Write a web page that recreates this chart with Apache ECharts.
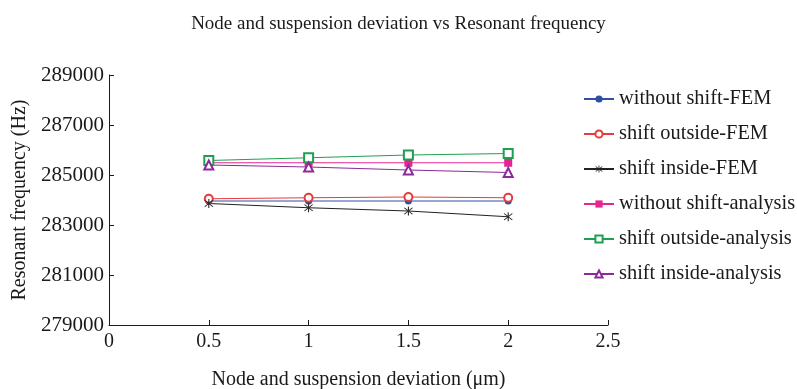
<!DOCTYPE html>
<html>
<head>
<meta charset="utf-8">
<script src="https://cdn.jsdelivr.net/npm/echarts@6/dist/echarts.min.js"></script>
<style>html,body{margin:0;padding:0;background:#fff}#c{width:797px;height:389px}</style>
</head>
<body>
<div id="c"></div>
<script>
const xValues = [0.5, 1, 1.5, 2];
const yTicks = [279000, 281000, 283000, 285000, 287000, 289000];
const withoutShiftFEM = [283960, 283960, 283960, 283960];
const shiftOutsideFEM = [284050, 284090, 284120, 284090];
const shiftInsideFEM = [283860, 283690, 283560, 283330];
const withoutShiftAnalysis = [285490, 285490, 285490, 285490];
const shiftOutsideAnalysis = [285580, 285690, 285800, 285860];
const shiftInsideAnalysis = [285400, 285320, 285200, 285100];

const FONT = '"Liberation Serif", "DejaVu Serif", serif';
const asterisk = 'path://M-0.45 -5 L0.45 -5 L0.45 5 L-0.45 5 Z M3.85 3.22 L3.22 3.85 L-3.85 -3.22 L-3.22 -3.85 Z M-3.22 3.85 L-3.85 3.22 L3.22 -3.85 L3.85 -3.22 Z';

function pairs(vals){ return xValues.map((x,i)=>[x, vals[i]]); }

function mk(name, vals, color, symbol, size){
  return {
    name, type:'line', data: pairs(vals), symbol, symbolSize: size,
    lineStyle:{color, width:1},
    itemStyle:{color, borderWidth: 1},
    emphasis:{disabled:true}, animation:false
  };
}

const chart = echarts.init(document.getElementById('c'), null, {renderer:'canvas'});
chart.setOption({
  backgroundColor:'#fff',
  animation:false,
  title:{
    text:'Node and suspension deviation vs Resonant frequency',
    left:'center', top:10,
    textStyle:{fontFamily:FONT, fontSize:19, fontWeight:'normal', color:'#1a1a1a'}
  },
  grid:{left:109, right:189, top:75, bottom:64, containLabel:false, outerBoundsMode:'none'},
  legend:{
    orient:'vertical', left:578, top:84, itemWidth:30, itemHeight:9, itemGap:15,
    textStyle:{fontFamily:FONT, fontSize:20.4, color:'#1a1a1a'},
    data:['without shift-FEM','shift outside-FEM','shift inside-FEM','without shift-analysis','shift outside-analysis','shift inside-analysis']
  },
  xAxis:{
    type:'value', min:0, max:2.5, interval:0.5,
    name:'Node and suspension deviation (\u03bcm)', nameLocation:'middle', nameGap:45,
    nameTextStyle:{fontFamily:FONT, fontSize:20, color:'#1a1a1a'},
    axisLine:{lineStyle:{color:'#1a1a1a', width:1}},
    axisTick:{inside:true, length:5, lineStyle:{color:'#1a1a1a'}},
    axisLabel:{fontFamily:FONT, fontSize:20, color:'#1a1a1a', margin:7},
    splitLine:{show:false}
  },
  yAxis:{
    type:'value', min:279000, max:289000,
    name:'Resonant frequency (Hz)', nameLocation:'middle', nameGap:73,
    nameTextStyle:{fontFamily:FONT, fontSize:20, color:'#1a1a1a'},
    axisLine:{show:true, lineStyle:{color:'#1a1a1a', width:1}},
    axisTick:{show:true, inside:true, length:5, customValues:yTicks, lineStyle:{color:'#1a1a1a'}},
    axisLabel:{fontFamily:FONT, fontSize:21, color:'#1a1a1a', margin:5, customValues:yTicks,
      formatter: v => String(v)},
    splitLine:{show:false}
  },
  series:[
    mk('without shift-FEM', withoutShiftFEM, '#2f4fa3', 'circle', 7),
    mk('shift outside-FEM', shiftOutsideFEM, '#e83a3a', 'emptyCircle', 8),
    mk('shift inside-FEM', shiftInsideFEM, '#222', asterisk, 9),
    mk('without shift-analysis', withoutShiftAnalysis, '#e5268f', 'rect', 8),
    mk('shift outside-analysis', shiftOutsideAnalysis, '#1fa050', 'emptyRect', 9),
    mk('shift inside-analysis', shiftInsideAnalysis, '#8b2a98', 'emptyTriangle', 9)
  ]
});
</script>
</body>
</html>
